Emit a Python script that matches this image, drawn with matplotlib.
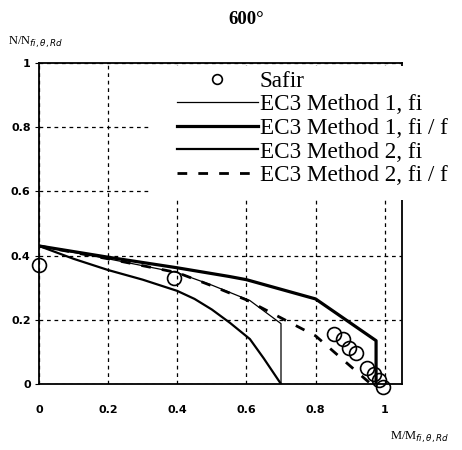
import matplotlib
matplotlib.use('Agg')
import matplotlib.pyplot as plt
from matplotlib.patches import Rectangle

# values
safir_x = [0.0, 0.39, 0.853, 0.878, 0.896, 0.916, 0.95, 0.968, 0.983, 0.994]
safir_y = [0.37, 0.33, 0.156, 0.14, 0.113, 0.097, 0.05, 0.031, 0.012, -0.01]

m1_fi_x = [0.0, 0.2, 0.4, 0.5, 0.61, 0.70, 0.70]
m1_fi_y = [0.43, 0.39, 0.347, 0.308, 0.26, 0.188, 0.0]

m1_fif_x = [0.0, 0.2, 0.4, 0.55, 0.6, 0.8, 0.975, 0.975]
m1_fif_y = [0.43, 0.395, 0.362, 0.335, 0.325, 0.265, 0.135, 0.0]

m2_fi_x = [0.0, 0.1, 0.2, 0.3, 0.4, 0.45, 0.5, 0.553, 0.61, 0.65, 0.70]
m2_fi_y = [0.43, 0.39, 0.355, 0.325, 0.29, 0.265, 0.232, 0.19, 0.14, 0.08, 0.0]

m2_fif_x = [0.0, 0.2, 0.4, 0.5, 0.6, 0.8, 0.96]
m2_fif_y = [0.43, 0.39, 0.347, 0.306, 0.262, 0.15, 0.0]

xticks = [0, 0.2, 0.4, 0.6, 0.8, 1.0]
xticklabels = ['0', '0.2', '0.4', '0.6', '0.8', '1']
yticks = [0, 0.2, 0.4, 0.6, 0.8, 1.0]
yticklabels = ['0', '0.2', '0.4', '0.6', '0.8', '1']

W, H = 462, 450
fig = plt.figure(figsize=(W / 100, H / 100), dpi=100)
ax = fig.add_axes([39 / W, 1 - 384 / H, (402 - 39) / W, (384 - 63) / H])

ax.plot(safir_x, safir_y, 'o', mfc='none', mec='black', ms=10, mew=1.2,
        label='Safir', clip_on=False, zorder=4)
ax.plot(m1_fi_x, m1_fi_y, '-', color='black', lw=0.9, label='EC3 Method 1, fi')
ax.plot(m1_fif_x, m1_fif_y, '-', color='black', lw=2.3, label='EC3 Method 1, fi / f')
ax.plot(m2_fi_x, m2_fi_y, '-', color='black', lw=1.6, label='EC3 Method 2, fi')
ax.plot(m2_fif_x, m2_fif_y, color='black', lw=2.0, linestyle=(0, (3.5, 4)),
        label='EC3 Method 2, fi / f')

ax.set_xlim(0, 1.05)
ax.set_ylim(0, 1.0)
ax.set_xticks(xticks)
ax.set_xticklabels(xticklabels)
ax.set_yticks(yticks)
ax.set_yticklabels(yticklabels)
for lab in ax.get_xticklabels() + ax.get_yticklabels():
    lab.set_fontweight('bold')
    lab.set_fontsize(8)
ax.tick_params(axis='x', length=0, pad=15)
ax.tick_params(axis='y', length=3, pad=3, direction='out')

ax.grid(True, color='black', linestyle=(0, (3, 3)), lw=0.9)
for s in ax.spines.values():
    s.set_linewidth(1.3)

# white area behind the legend (covers grid and right spine)
ax.add_patch(Rectangle((152 / W, 1 - 200 / H), (460 - 152) / W, (200 - 66) / H,
                       transform=fig.transFigure, facecolor='white',
                       edgecolor='none', clip_on=False, zorder=3))

leg = ax.legend(loc='upper left', bbox_to_anchor=(165 / W, 1 - 59 / H),
                bbox_transform=fig.transFigure, frameon=False, borderpad=0,
                handlelength=3.5, handletextpad=0.08, labelspacing=0.1,
                markerscale=0.7, numpoints=1,
                prop={'family': 'Liberation Serif', 'size': 16.7})
leg.set_zorder(5)

fig.text(246 / W, 1 - 20 / H, '600°', ha='center', va='center',
         fontsize=13.5, fontweight='bold', family='Liberation Serif')
fig.text(8 / W, 1 - 42 / H, r'N/N$_{fi,\theta,Rd}$', ha='left', va='center',
         fontsize=9, family='Liberation Serif')
fig.text(390 / W, 1 - 437 / H, r'M/M$_{fi,\theta,Rd}$', ha='left', va='center',
         fontsize=9, family='Liberation Serif')

plt.savefig('out.png', dpi=100)
